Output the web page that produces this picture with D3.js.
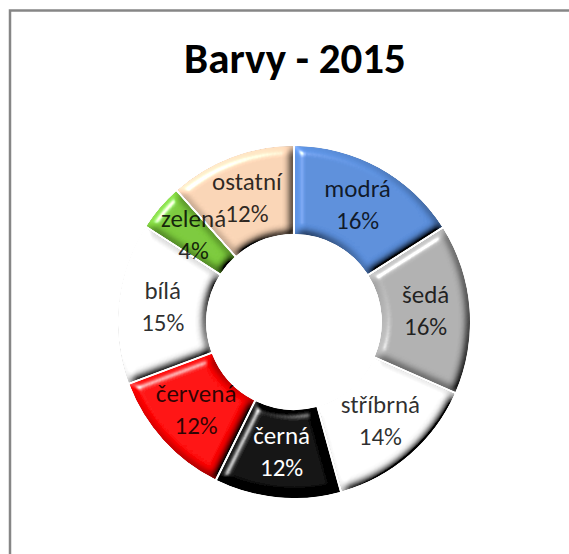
<!DOCTYPE html>
<html>
<head>
<meta charset="utf-8">
<script src="https://cdn.jsdelivr.net/npm/d3@7"></script>
<style>
  body { margin: 0; background: #fff; }
  svg { display: block; font-family: Carlito, Calibri, Lato, sans-serif; }
</style>
</head>
<body>
<svg id="chart"></svg>
<script>
// barvy aut 2015 - podíly v %
var categories = ["modrá", "šedá", "stříbrná", "černá", "červená", "bílá", "zelená", "ostatní"];
var values = [16.0, 15.6, 14.1, 11.6, 12.0, 14.8, 4.3, 11.6];
var colors = ["#5b8fdc", "#b1b1b1", "#ffffff", "#000000", "#ff0000", "#ffffff", "#7ccb3c", "#fad5b6"];
var labelColors = ["#000", "#000", "#000", "#fff", "#000", "#000", "#000", "#000"];

var width = 569;
var height = 554;
var cx = 294, cy = 322;
var outer = 176, inner = 88;

var svg = d3.select("#chart")
    .attr("width", width)
    .attr("height", height);

// ramecek grafu
svg.append("rect")
    .attr("x", 10).attr("y", 10.5)
    .attr("width", 620).attr("height", 620)
    .attr("fill", "#fff")
    .attr("stroke", "#868686")
    .attr("stroke-width", 2.5);

svg.append("text")
    .attr("x", 295).attr("y", 73)
    .attr("text-anchor", "middle")
    .style("font-size", "43px")
    .style("font-weight", "bold")
    .attr("fill", "#000")
    .text("Barvy - 2015");

// bevel efekt jako v Excelu
var defs = svg.append("defs");
var f = defs.append("filter").attr("id", "bevel")
    .attr("x", "-5%").attr("y", "-5%").attr("width", "110%").attr("height", "110%");
f.append("feGaussianBlur").attr("in", "SourceAlpha").attr("stdDeviation", 4).attr("result", "blur");
f.append("feDiffuseLighting").attr("in", "blur").attr("surfaceScale", 7)
    .attr("diffuseConstant", 1).attr("lighting-color", "#fff").attr("result", "diff")
  .append("feDistantLight").attr("azimuth", 225).attr("elevation", 50);
f.append("feComposite").attr("in", "SourceGraphic").attr("in2", "diff")
    .attr("operator", "arithmetic").attr("k1", 1.3).attr("k2", 0).attr("k3", 0).attr("k4", 0)
    .attr("result", "lit");
f.append("feSpecularLighting").attr("in", "blur").attr("surfaceScale", 7)
    .attr("specularConstant", 0.8).attr("specularExponent", 40)
    .attr("lighting-color", "#fff").attr("result", "spec")
  .append("feDistantLight").attr("azimuth", 225).attr("elevation", 35);
f.append("feComposite").attr("in", "spec").attr("in2", "SourceAlpha")
    .attr("operator", "in").attr("result", "specIn");
f.append("feComposite").attr("in", "lit").attr("in2", "specIn")
    .attr("operator", "arithmetic").attr("k1", 0).attr("k2", 1).attr("k3", 1).attr("k4", 0)
    .attr("result", "out");
f.append("feComposite").attr("in", "out").attr("in2", "SourceAlpha").attr("operator", "in");

var data = categories.map((c, i) => ({ name: c, value: values[i], color: colors[i], label: labelColors[i] }));

var pie = d3.pie()
    .value(d => d.value)
    .sort(null);

var arc = d3.arc()
    .innerRadius(inner)
    .outerRadius(outer)
    .padAngle(0.01);

var g = svg.append("g")
    .attr("transform", "translate(" + cx + "," + cy + ")");

g.selectAll("path")
    .data(pie(data))
    .enter()
    .append("path")
    .attr("d", arc)
    .attr("fill", d => d.data.color)
    .attr("filter", "url(#bevel)");

var labels = g.selectAll(".lbl")
    .data(pie(data))
    .enter()
    .append("text")
    .attr("class", "lbl")
    .attr("text-anchor", "middle")
    .style("font-size", "25px")
    .attr("fill", d => d.data.label)
    .attr("fill-opacity", d => d.data.label == "#fff" ? 1 : 0.82)
    .attr("transform", d => "translate(" + arc.centroid(d) + ")");

labels.append("tspan")
    .attr("x", 0).attr("y", -9)
    .text(d => d.data.name);

labels.append("tspan")
    .attr("x", 0).attr("y", 23)
    .text(d => Math.round(d.data.value) + "%");
</script>
</body>
</html>
